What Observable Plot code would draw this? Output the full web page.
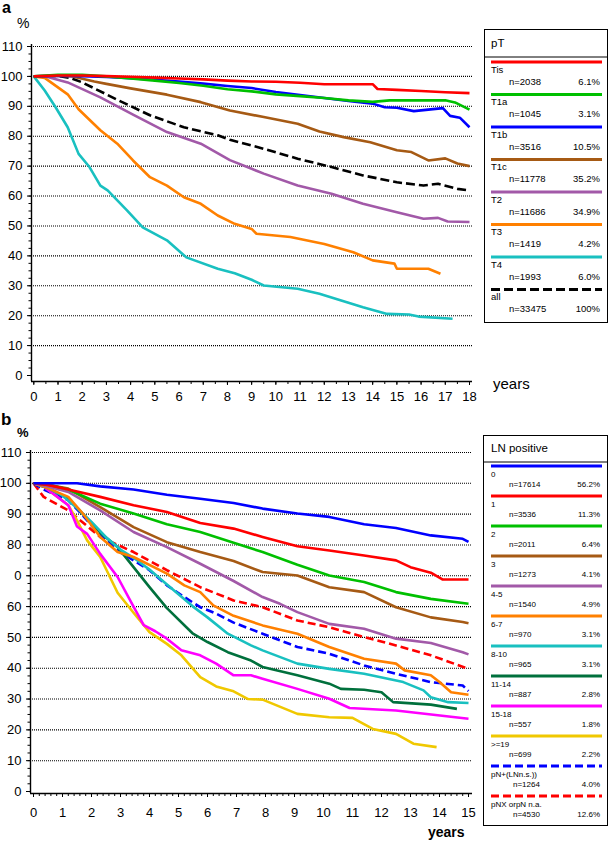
<!DOCTYPE html>
<html><head><meta charset="utf-8">
<script src="https://cdn.jsdelivr.net/npm/d3@7"></script>
<script src="https://cdn.jsdelivr.net/npm/@observablehq/plot@0.6"></script>
<style>
body{margin:0;background:#fff;font-family:"Liberation Sans",Arial,Helvetica,sans-serif;}
#root{position:relative;width:609px;height:842px;overflow:hidden;background:#fff;}
#root > svg{position:absolute;left:0;}
</style></head><body><div id="root"></div>
<script>
// ---------- Panel a data (years, % ) ----------
const tisPts = [[0,100],[1,100.3],[2,100.3],[3,100.1],[4,99.9],[5,99.6],[6,99.3],[7,99],[8,98.6],[9,98.3],[10,98.2],[11,97.9],[12,97.4],[13,97.4],[14,97.4],[14.2,95.8],[15,95.5],[16,95.1],[17,94.7],[18,94.4]];
const t1aPts = [[0,100],[1,100.5],[2,100.5],[3,100],[4,99.3],[5,98.6],[6,97.8],[7,96.9],[8,95.7],[9,95],[10,94],[11,93.4],[12,92.8],[13,92],[14,91.5],[14.7,92],[16,92],[17,92],[17.4,91.3],[18,88.9]];
const t1bPts = [[0,100],[1,100.2],[2,100.1],[3,99.8],[4,99.4],[5,98.9],[6,98.3],[7,97.6],[8,96.8],[9,96.1],[10,94.8],[11,93.8],[12,92.8],[13,91.8],[14,90.9],[14.5,89.7],[15,89.5],[15.7,88.4],[16.9,89.4],[17.2,86.8],[17.6,86.2],[18,83]];
const t1cPts = [[0,100],[1,100.2],[1.6,100],[2.5,98.3],[3,97.5],[4,96],[5.5,93.9],[6.9,91.4],[8.1,88.6],[9.5,86.4],[10.9,84.2],[11.8,81.6],[12.8,79.7],[13.9,78],[15,75.3],[15.6,74.7],[16.3,71.9],[17,72.6],[17.5,70.9],[18,70]];
const t2Pts = [[0,100],[0.5,100],[1.4,98],[2.75,93],[4.1,87.2],[5.5,81.4],[6.9,77.5],[8.1,72],[9,69.1],[9.5,67.5],[10.9,63.5],[12.3,60.8],[13.6,57.4],[15,54.6],[16.1,52.4],[16.7,52.7],[17.1,51.5],[18,51.3]];
const t3Pts = [[0,100],[0.45,99.5],[1.4,94],[1.85,89],[2.75,82],[3.45,77.5],[4.1,71.9],[4.8,66.3],[5.5,63.5],[6.2,59.6],[6.9,57.4],[7.6,53.5],[8.3,50.7],[9,49],[9.2,47.4],[10.6,46.3],[12,44],[13.2,41.2],[14,38.5],[14.9,37.4],[15,35.7],[16.3,35.7],[16.8,34]];
const t4Pts = [[0,100],[0.45,95.3],[0.9,89.7],[1.4,83],[1.85,74.1],[2.3,69.7],[2.75,63.5],[3.05,61.9],[3.85,55.2],[4.5,49.5],[5.5,45.2],[6.3,39.5],[7.6,35.7],[8.3,34.2],[9,32],[9.5,30.1],[10.9,29],[11.8,27.3],[12.7,25.1],[13.6,22.8],[14.6,20.6],[15.5,20.4],[15.9,19.7],[17.3,19]];
const allPts = [[0,100],[1,100.2],[1.5,99.5],[2,98],[3,94],[3.5,92],[4.8,87],[6.2,83],[7.6,80.3],[8.1,78.8],[9.5,75.8],[10.9,72.5],[12.3,69.7],[13.6,66.9],[15,64.6],[16.1,63.5],[16.7,64.1],[17.5,62.4],[18,61.9]];

const namesA = ["Tis","T1a","T1b","T1c","T2","T3","T4","all"];
const nA = ["n=2038","n=1045","n=3516","n=11778","n=11686","n=1419","n=1993","n=33475"];
const pctA = ["6.1%","3.1%","10.5%","35.2%","34.9%","4.2%","6.0%","100%"];
const colorsA = ["#ff0000","#00c000","#0000ff","#a65a14","#a259a8","#ff8000","#19c0c0","#000000"];
const dashA = [null,null,null,null,null,null,null,"9,4"];
const seriesA = [tisPts,t1aPts,t1bPts,t1cPts,t2Pts,t3Pts,t4Pts,allPts];

const xTicksA = [0,1,2,3,4,5,6,7,8,9,10,11,12,13,14,15,16,17,18];
const xLabelsA = ["0","1","2","3","4","5","6","7","8","9","10","11","12","13","14","15","16","17","18"];
const yTicksA = [0,10,20,30,40,50,60,70,80,90,100,110];
const yLabelsA = ["0","10","20","30","40","50","60","70","80","90","100","110"];

// ---------- Panel b data ----------
const ln0Pts = [[0,100],[1.5,100],[2.3,99],[3.45,98],[4.6,96.3],[5.75,95],[6.9,93.6],[7.9,91.8],[9.1,90.2],[10.2,89.1],[11.4,86.7],[12.5,85.5],[13.7,83.1],[14.8,82],[15,81]];
const ln1Pts = [[0,100],[0.5,99.5],[1.2,98],[2.3,95.6],[3.45,92.9],[4.6,90.7],[5.75,87.1],[6.9,85.3],[7.9,82.6],[9.1,79.6],[10.2,78.2],[11.4,76.6],[12.5,75],[13,72.8],[13.7,71],[14.1,68.8],[15,68.8]];
const ln2Pts = [[0,100],[0.5,99.6],[1.2,98],[2.3,93.4],[3.45,90.2],[4.6,86.7],[5.75,84.2],[6.9,80.7],[7.9,77.7],[9.1,73.6],[10.2,70.1],[11.4,68],[12.5,64.7],[13.7,62.5],[15,60.9]];
const ln3Pts = [[0,100],[0.5,99.5],[1.2,98.3],[2.3,92.3],[3.45,85.8],[4.6,80.9],[5.75,77.7],[6.9,74.8],[7.9,71.2],[9.1,70.1],[10.2,66.3],[11.4,64.7],[12.5,59.8],[13.7,56.5],[14.8,55],[15,54.6]];
const ln45Pts = [[0,100],[0.5,99],[1.2,97.2],[2.3,91.2],[3.45,84.2],[4.6,79.3],[5.75,73.9],[6.9,68.3],[7.9,63.1],[8.5,60.9],[9.1,58.2],[10.2,54.4],[11.4,52.8],[12.5,49.6],[13.7,48.2],[14.8,45.2],[15,44.5]];
const ln67Pts = [[0,100],[0.35,99],[1.2,95.6],[1.7,90.2],[2.3,82.6],[2.9,77.7],[3.45,76.1],[4.6,70.7],[5.2,66.9],[5.75,64.7],[6.2,60.4],[6.9,57],[7.9,53.9],[9.1,51.2],[10.2,46.9],[11.4,43.1],[12.5,41.5],[12.8,39.3],[13.7,37.7],[14,35.5],[14.4,32.2],[15,31.4]];
const ln810Pts = [[0,100],[0.5,98.5],[1,96],[1.5,92],[2,87.5],[2.5,82.5],[3,78.5],[3.5,75.5],[4,72],[4.5,68],[5,64],[5.5,60],[6,56.5],[6.7,51.2],[7.5,47.4],[7.9,45.8],[9.1,41.5],[10.2,39.8],[11.4,38.2],[12.75,35.5],[13.45,32.8],[13.7,30.6],[14.3,29],[15,28.7]];
const ln1114Pts = [[0,100],[0.5,98.5],[1.2,95],[1.7,90],[2.3,84],[2.9,79.3],[3.45,72.8],[4,66.3],[4.6,59.5],[5.5,51.2],[6,48.5],[6.7,45.2],[7.5,42.5],[7.9,40.4],[9.1,37.7],[10.2,35],[10.6,33.3],[11.4,33],[12,32.2],[12.4,29],[13.7,28.2],[14.6,26.8]];
const ln1518Pts = [[0,100],[0.35,99],[1.2,92.9],[1.5,86],[1.85,83.6],[2.3,77.1],[2.9,69.6],[3.45,60],[3.8,54],[4.2,52],[4.6,49.6],[5.1,45.8],[5.75,44.2],[6.3,41.5],[6.9,37.7],[7.5,37.7],[7.9,36.6],[9.1,33.3],[10.2,30.1],[10.9,27.1],[12.5,26.3],[15,23.6]];
const ln19Pts = [[0,100],[0.35,99],[1.2,92.9],[1.5,88],[1.85,81.5],[2.3,76.1],[2.9,64.5],[3.45,58],[4,51.7],[4.6,47.9],[5.1,44.2],[5.75,37.1],[6.3,34.1],[6.9,32.5],[7.4,30],[7.9,29.8],[9.1,25.2],[10.2,24.1],[11,23.9],[11.7,20.3],[12.5,18.7],[13.1,15.5],[13.9,14.4]];
const pnPlusPts = [[0,100],[0.35,98],[1.2,94.5],[1.7,89.6],[2.3,83.1],[2.9,78.2],[3.45,75],[4,71.8],[4.6,66.9],[5.2,63.1],[5.75,59.8],[6.3,57.7],[6.9,54.8],[7.9,51.2],[9.1,46.9],[10.2,44.7],[11.4,40.9],[12.5,38.2],[13.7,35.5],[14.8,34.4],[15,32.6]];
const pnxPts = [[0,100],[0.35,95.6],[1.2,91.2],[2.3,82.6],[3.45,77.7],[4.6,71.8],[5.75,66.3],[6.9,62],[7.9,59.8],[9.1,55.5],[10.2,53.3],[11.4,50.1],[12.5,47.4],[13.7,44.2],[15,39.8]];

const namesB = ["0","1","2","3","4-5","6-7","8-10","11-14","15-18",">=19","pN+(LNn.s.))","pNX orpN  n.a."];
const nB = ["n=17614","n=3536","n=2011","n=1273","n=1540","n=970","n=965","n=887","n=557","n=699","n=1264","n=4530"];
const pctB = ["56.2%","11.3%","6.4%","4.1%","4.9%","3.1%","3.1%","2.8%","1.8%","2.2%","4.0%","12.6%"];
const colorsB = ["#0000ff","#ff0000","#00c000","#a65a14","#a259a8","#ff8000","#19c0c0","#00703c","#ff00ff","#f0c800","#0000ff","#ff0000"];
const dashB = [null,null,null,null,null,null,null,null,null,null,"8,4","8,4"];
const seriesB = [ln0Pts,ln1Pts,ln2Pts,ln3Pts,ln45Pts,ln67Pts,ln810Pts,ln1114Pts,ln1518Pts,ln19Pts,pnPlusPts,pnxPts];

const xTicksB = [0,1,2,3,4,5,6,7,8,9,10,11,12,13,14,15];
const xLabelsB = ["0","1","2","3","4","5","6","7","8","9","10","11","12","13","14","15"];
const yTicksB = [0,10,20,30,40,50,60,70,80,90,100,110];
const yLabelsB = ["0","10","20","30","40","50","60","0","80","90","100","110"];

const gridVals = [10,20,30,40,50,60,70,80,90,100,110];

// ---------- build panels ----------
const FONT = "'Liberation Sans', Arial, Helvetica, sans-serif";
function panel(cfg) {
  const xLab = new Map(cfg.xTicks.map((d,i)=>[d,cfg.xLabels[i]]));
  const yLab = new Map(cfg.yTicks.map((d,i)=>[d,cfg.yLabels[i]]));
  const lines = cfg.series.map((pts,i)=>({pts, color: cfg.colors[i], dash: cfg.dashes[i]})).reverse();
  return Plot.plot({
    width: 609, height: cfg.height,
    marginLeft: cfg.mL, marginRight: 137, marginTop: cfg.mT, marginBottom: cfg.mB,
    style: `font-family:${FONT};font-size:13px;background:transparent;color:#000;overflow:visible;`,
    x: {domain: [0, cfg.xMax], range: cfg.xRange},
    y: {domain: [0, 110], range: cfg.yRange},
    marks: [
      Plot.ruleY(gridVals, {stroke: "#000", strokeWidth: 1.1, strokeDasharray: "1,1"}),
      Plot.axisY({ticks: cfg.yMinor, tickSize: 2.5, tickFormat: () => "", label: null, strokeWidth: 1}),
      Plot.axisY({ticks: cfg.yTicks, tickSize: 4, tickPadding: 5, tickFormat: d => yLab.get(d), label: null, fontSize: 13, strokeWidth: 1}),
      Plot.axisX({ticks: cfg.xMinor, tickSize: 3, tickFormat: () => "", label: null, strokeWidth: 1}),
      Plot.axisX({ticks: cfg.xTicks, tickSize: 4, tickPadding: cfg.xPad, tickFormat: d => xLab.get(d), label: null, fontSize: 13, strokeWidth: 1}),
      Plot.ruleX([0], {dx: cfg.axDx, stroke: "#000", strokeWidth: 1.4}),
      Plot.ruleY([0], {dy: cfg.axDy, stroke: "#000", strokeWidth: 1.4}),
      ...lines.map(s => Plot.line(s.pts, {x: d => d[0], y: d => d[1], stroke: s.color, strokeWidth: 2.6,
        strokeDasharray: s.dash || undefined, strokeLinejoin: "round", strokeLinecap: "butt"}))
    ]
  });
}

const root = document.getElementById("root");

const svgA = panel({
  height: 400, mL: 31, mT: 44, mB: 19,
  xMax: 18, xRange: [33.3, 469], yRange: [375, 46],
  xTicks: xTicksA, xLabels: xLabelsA, xMinor: d3.range(0, 18.01, 0.5),
  yTicks: yTicksA, yLabels: yLabelsA, yMinor: d3.range(0, 110.01, 2.5),
  xPad: 6, axDx: -2.3, axDy: 6,
  series: seriesA, colors: colorsA, dashes: dashA
});
svgA.style.top = "0px";
root.appendChild(svgA);

const svgB = panel({
  height: 442, mL: 30, mT: 50, mB: 49,
  xMax: 15, xRange: [33, 468], yRange: [391, 52],
  xTicks: xTicksB, xLabels: xLabelsB, xMinor: d3.range(0, 15.01, 0.2),
  yTicks: yTicksB, yLabels: yLabelsB, yMinor: d3.range(0, 110.01, 2.5),
  xPad: 10, axDx: -3, axDy: 2,
  series: seriesB, colors: colorsB, dashes: dashB
});
svgB.style.top = "400px";
root.appendChild(svgB);

// ---------- overlay: panel letters, units, legends ----------
const ov = d3.select(root).append("svg")
  .attr("width", 609).attr("height", 842)
  .style("position", "absolute").style("left", "0px").style("top", "0px")
  .style("font-family", FONT);

function txt(x, y, s, size, weight, anchor) {
  ov.append("text").attr("x", x).attr("y", y).attr("font-size", size)
    .attr("font-weight", weight || "normal").attr("text-anchor", anchor || "start")
    .attr("fill", "#000").text(s);
}
txt(2, 13, "a", 16, "bold");
txt(17, 28, "%", 14, "normal");
txt(493, 389, "years", 15, "normal");
txt(1, 425, "b", 17, "bold");
txt(17, 437, "%", 13, "bold");
txt(428, 837, "years", 14, "bold");

function legend(c) {
  ov.append("rect").attr("x", c.x).attr("y", c.y).attr("width", c.w).attr("height", c.h)
    .attr("fill", "none").attr("stroke", "#000").attr("stroke-width", 1);
  txt(491, c.titleBase, c.title, 11.5, "normal");
  ov.append("line").attr("x1", c.x).attr("x2", c.x + c.w).attr("y1", c.sep).attr("y2", c.sep)
    .attr("stroke", "#000").attr("stroke-width", 1);
  c.names.forEach((name, i) => {
    const ly = c.first + i * c.step;
    ov.append("line").attr("x1", 491).attr("x2", 602).attr("y1", ly).attr("y2", ly)
      .attr("stroke", c.colors[i]).attr("stroke-width", 3)
      .attr("stroke-dasharray", c.dashes[i] || null);
    txt(491, ly + c.labOff, name, c.fs, "normal");
    txt(c.nX[i], ly + c.nOff, c.ns[i], c.fs, "normal");
    txt(600, ly + c.nOff, c.pcts[i], c.fs, "normal", "end");
  });
}
legend({x: 484.5, y: 29.5, w: 123, h: 293, title: "pT", titleBase: 47, sep: 57,
  first: 62, step: 32.5, labOff: 10.5, nOff: 22.5, fs: 9.5,
  names: namesA, ns: nA, pcts: pctA, colors: colorsA, dashes: dashA,
  nX: namesA.map(() => 509)});
legend({x: 483.5, y: 435.5, w: 124, h: 390, title: "LN positive", titleBase: 452, sep: 462,
  first: 466, step: 30, labOff: 10.5, nOff: 20.5, fs: 8,
  names: namesB, ns: nB, pcts: pctB, colors: colorsB, dashes: dashB,
  nX: namesB.map((d, i) => i >= 10 ? 513 : 509)});
</script>
</body></html>
